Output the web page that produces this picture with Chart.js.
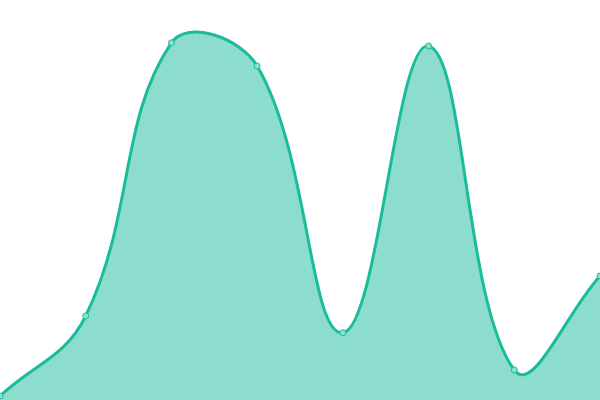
<!DOCTYPE html>
<html>
<head>
<meta charset="utf-8">
<script src="https://cdn.jsdelivr.net/npm/chart.js@4"></script>
<style>
  html, body { margin: 0; padding: 0; background: #fff; }
  #wrap { width: 600px; height: 400px; }
</style>
</head>
<body>
<div id="wrap"><canvas id="myChart"></canvas></div>
<script>
// values (y scale 0..100)
var labels = ["1", "2", "3", "4", "5", "6", "7", "8"];
var values = [1, 21, 89.3, 83.5, 16.8, 88.5, 7.5, 31];

var ctx = document.getElementById("myChart").getContext("2d");
var chart = new Chart(ctx, {
  type: "line",
  data: {
    labels: labels,
    datasets: [
      {
        data: values,
        borderColor: "#1abc9c",
        backgroundColor: "rgba(26,188,156,0.5)",
        pointBackgroundColor: "#8be0cf",
        pointBorderColor: "#1abc9c",
        pointRadius: 3,
        pointBorderWidth: 1,
        borderWidth: 3,
        tension: 0.4,
        fill: "origin"
      }
    ]
  },
  options: {
    animation: false,
    responsive: true,
    maintainAspectRatio: false,
    layout: { padding: 0, autoPadding: false },
    plugins: { legend: { display: false }, tooltip: { enabled: false } },
    scales: {
      x: { display: false, offset: false },
      y: { display: false, min: 0, max: 100 }
    }
  }
});
</script>
</body>
</html>
